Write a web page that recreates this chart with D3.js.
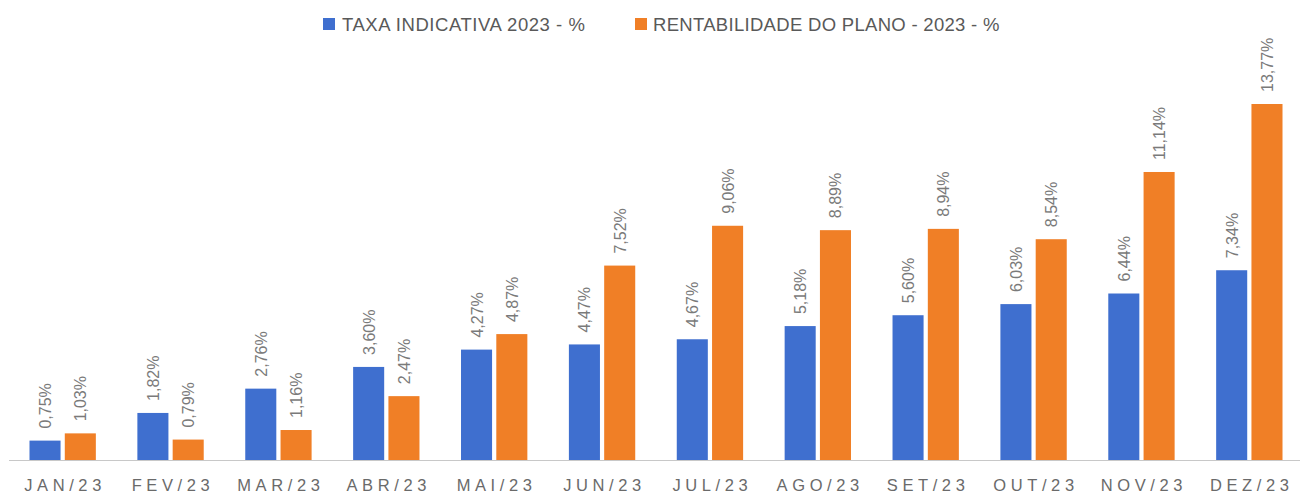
<!DOCTYPE html>
<html>
<head>
<meta charset="utf-8">
<script src="https://cdn.jsdelivr.net/npm/d3@7"></script>
<style>
  body { margin: 0; background: #fff; }
  svg { display: block; font-family: "Liberation Sans", Arial, sans-serif; }
</style>
</head>
<body>
<div id="chart"></div>
<script>
var months = ['JAN/23', 'FEV/23', 'MAR/23', 'ABR/23', 'MAI/23', 'JUN/23', 'JUL/23', 'AGO/23', 'SET/23', 'OUT/23', 'NOV/23', 'DEZ/23'];
var taxa = [0.75, 1.82, 2.76, 3.60, 4.27, 4.47, 4.67, 5.18, 5.60, 6.03, 6.44, 7.34];
var rentab = [1.03, 0.79, 1.16, 2.47, 4.87, 7.52, 9.06, 8.89, 8.94, 8.54, 11.14, 13.77];
var seriesNames = ['TAXA INDICATIVA 2023 - %', 'RENTABILIDADE DO PLANO - 2023 - %'];
var colors = ['#3F6FCF', '#F07F26'];

const width = 1300;
const height = 497;

var svg = d3.select('#chart').append('svg')
    .attr('width', width)
    .attr('height', height);

var xScale = d3.scaleBand().domain(months).range([9, 1303]).paddingInner(0.385).paddingOuter(0.19);
var xSub = d3.scaleBand().domain([0, 1]).range([0, xScale.bandwidth()]).paddingInner(0.12);
var yScale = d3.scaleLinear().domain([0, 13.77]).range([460, 104]);

var fmt = function(v){ return v.toFixed(2).replace('.', ',') + '%'; };

// axis line
svg.append('line')
    .attr('x1', 9).attr('x2', 1300)
    .attr('y1', yScale(0) + 0.5).attr('y2', yScale(0) + 0.5)
    .attr('stroke', '#c8c8c8').attr('stroke-width', 1);

var data = [];
months.forEach(function(m, i){
    data.push({month: m, s: 0, value: taxa[i]});
    data.push({month: m, s: 1, value: rentab[i]});
});

svg.selectAll('rect.bar')
    .data(data)
    .join('rect')
    .attr('class', 'bar')
    .attr('x', d => xScale(d.month) + xSub(d.s))
    .attr('y', d => yScale(d.value))
    .attr('width', xSub.bandwidth())
    .attr('height', d => yScale(0) - yScale(d.value))
    .attr('fill', d => colors[d.s]);

svg.selectAll('text.val')
    .data(data)
    .join('text')
    .attr('class', 'val')
    .attr('transform', function(d){
        var cx = xScale(d.month) + xSub(d.s) + xSub.bandwidth() / 2 + 6;
        var cy = yScale(d.value) - 12;
        return 'translate(' + cx + ',' + cy + ') rotate(-90)';
    })
    .attr('text-anchor', 'start')
    .attr('font-size', 16)
    .attr('fill', '#7a7a7a')
    .text(d => fmt(d.value));

// x axis labels
var xAxis = svg.append('g')
    .attr('transform', 'translate(0,' + yScale(0) + ')')
    .call(d3.axisBottom(xScale).tickSize(0).tickPadding(19));
xAxis.select('.domain').remove();
xAxis.selectAll('text')
    .attr('font-size', 16.5)
    .attr('fill', '#6a6a6a')
    .attr('font-family', '"Liberation Sans", Arial, sans-serif')
    .attr('dx', '2.4px')
    .style('letter-spacing', '4.6px');

// legend
var legendX = [323, 635];
var legend = svg.selectAll('g.leg')
    .data(seriesNames)
    .join('g')
    .attr('class', 'leg')
    .attr('transform', (d, i) => 'translate(' + legendX[i] + ',18)');
legend.append('rect')
    .attr('width', 12).attr('height', 12)
    .attr('fill', (d, i) => colors[i]);
legend.append('text')
    .attr('x', (d, i) => i == 0 ? 19 : 18).attr('y', 13)
    .attr('font-size', 18.5)
    .attr('fill', '#595959')
    .style('letter-spacing', (d, i) => i == 0 ? '0.55px' : '0.3px')
    .text(d => d);
</script>
</body>
</html>
